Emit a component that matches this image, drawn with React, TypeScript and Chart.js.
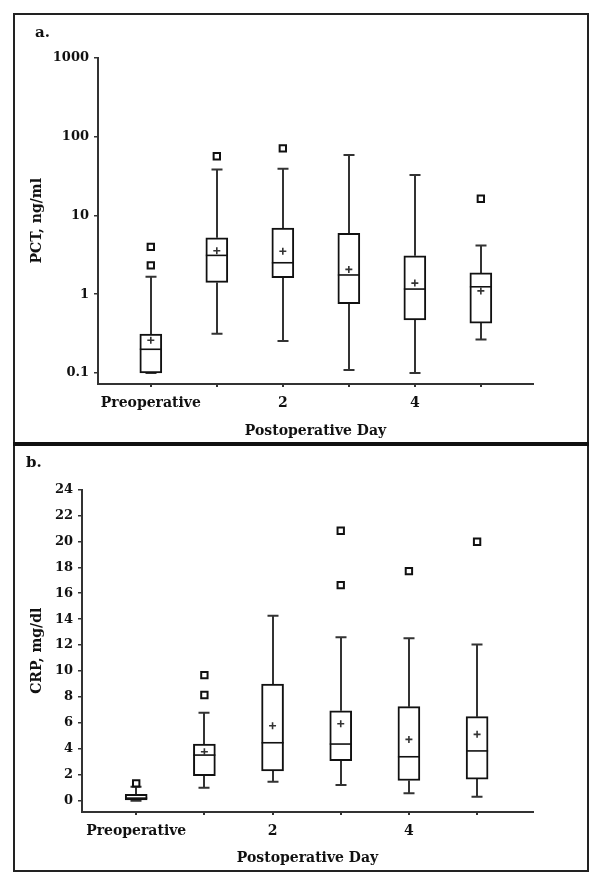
import React, { useEffect, useRef } from 'react';
import { Chart, registerables } from 'chart.js';

Chart.register(...registerables);

// ---------- data ----------
const categories = ['Preoperative', '', '2', '', '4', ''];

// Panel a: PCT (ng/ml), log scale
const pctTicks = [0.1, 1, 10, 100, 1000];
const pctMin = [0.1, 0.315, 0.255, 0.109, 0.1, 0.267];
const pctQ1 = [0.1, 1.41, 1.62, 0.76, 0.47, 0.43];
const pctMedian = [0.2, 3.1, 2.5, 1.75, 1.16, 1.24];
const pctQ3 = [0.312, 5.18, 6.9, 5.9, 3.07, 1.86];
const pctMax = [1.66, 38, 39, 58, 32.3, 4.15];
const pctMean = [0.26, 3.55, 3.5, 2.06, 1.38, 1.1];
const pctOutlierCat = [0, 0, 1, 2, 5];
const pctOutlierVal = [3.98, 2.32, 56, 70.5, 16.2];

// Panel b: CRP (mg/dl), linear scale
const crpTicks = [0, 2, 4, 6, 8, 10, 12, 14, 16, 18, 20, 22, 24];
const crpMin = [0, 1.0, 1.47, 1.21, 0.57, 0.31];
const crpQ1 = [0, 1.93, 2.29, 3.08, 1.56, 1.67];
const crpMedian = [0.2, 3.52, 4.47, 4.37, 3.39, 3.84];
const crpQ3 = [0.5, 4.37, 9.0, 6.94, 7.25, 6.48];
const crpMax = [1.08, 6.79, 14.26, 12.6, 12.52, 12.05];
const crpMean = [null, 3.78, 5.78, 5.94, 4.73, 5.12];
const crpOutlierCat = [0, 1, 1, 3, 3, 4, 5];
const crpOutlierVal = [1.34, 9.69, 8.15, 20.82, 16.63, 17.71, 19.97];

// ---------- helpers ----------
const FONT = "'DejaVu Serif', serif";
const CAP = 5.5;

function boxPlugin(mins: number[], q1s: number[], meds: number[], q3s: number[], maxs: number[]) {
  return {
    id: 'boxWhiskers',
    beforeDatasetsDraw(chart: any) {
      const { ctx, scales } = chart;
      const x = scales.x;
      const y = scales.y;
      ctx.save();
      ctx.strokeStyle = '#333';
      ctx.lineWidth = 2;
      for (let i = 0; i < mins.length; i++) {
        const px = Math.round(x.getPixelForValue(i));
        const top = y.getPixelForValue(maxs[i]);
        const bot = y.getPixelForValue(mins[i]);
        ctx.beginPath();
        ctx.moveTo(px, y.getPixelForValue(q3s[i]));
        ctx.lineTo(px, top);
        ctx.moveTo(px, y.getPixelForValue(q1s[i]));
        ctx.lineTo(px, bot);
        ctx.moveTo(px - CAP, top);
        ctx.lineTo(px + CAP, top);
        ctx.moveTo(px - CAP, bot);
        ctx.lineTo(px + CAP, bot);
        ctx.stroke();
      }
      ctx.restore();
    },
    afterDatasetDraw(chart: any, args: any) {
      if (args.index !== 0) return;
      const { ctx, scales } = chart;
      const y = scales.y;
      const meta = chart.getDatasetMeta(0);
      ctx.save();
      ctx.strokeStyle = '#111';
      ctx.lineWidth = 1.6;
      meta.data.forEach((el: any, i: number) => {
        const py = y.getPixelForValue(meds[i]);
        ctx.beginPath();
        ctx.moveTo(el.x - el.width / 2, py);
        ctx.lineTo(el.x + el.width / 2, py);
        ctx.stroke();
      });
      ctx.restore();
    },
  };
}

interface PanelCfg {
  yType: 'logarithmic' | 'linear';
  yMin: number;
  yMax: number;
  yTicks: number[];
  yTitle: string;
  yWidth: number;
  padTop: number;
  xMin: number;
  xMax: number;
  mins: number[];
  q1s: number[];
  meds: number[];
  q3s: number[];
  maxs: number[];
  means: (number | null)[];
  outCat: number[];
  outVal: number[];
  titlePadBottom: number;
}

function makeConfig(p: PanelCfg): any {
  const boxes = p.q1s.map((q1, i) => ({ x: i, y: [q1, p.q3s[i]] }));
  const means: any[] = [];
  p.means.forEach((m, i) => {
    if (m !== null) means.push({ x: i, y: m });
  });
  const outliers = p.outCat.map((c, i) => ({ x: c, y: p.outVal[i] }));
  return {
    type: 'bar',
    data: {
      datasets: [
        {
          type: 'bar',
          order: 3,
          data: boxes,
          backgroundColor: '#ffffff',
          borderColor: '#111',
          borderWidth: 2,
          borderSkipped: false,
          barThickness: 22,
        },
        {
          type: 'scatter',
          order: 1,
          data: means,
          pointStyle: 'cross',
          pointRadius: 3.5,
          pointBorderColor: '#333',
          pointBorderWidth: 1.6,
          borderColor: '#333',
        },
        {
          type: 'scatter',
          order: 2,
          data: outliers,
          pointStyle: 'rect',
          pointRadius: 4.5,
          pointBackgroundColor: '#fff',
          pointBorderColor: '#111',
          pointBorderWidth: 2,
          borderColor: '#111',
          backgroundColor: '#fff',
        },
      ],
    },
    options: {
      animation: false,
      responsive: false,
      devicePixelRatio: 1,
      layout: { padding: { left: 0, top: p.padTop, right: 69, bottom: 0 } },
      plugins: { legend: { display: false }, tooltip: { enabled: false } },
      scales: {
        x: {
          type: 'linear',
          min: p.xMin,
          max: p.xMax,
          offset: false,
          afterBuildTicks: (s: any) => {
            s.ticks = categories.map((_, i) => ({ value: i }));
          },
          afterFit: (s: any) => {
            s.height = 59;
          },
          ticks: {
            callback: (_v: any, idx: number) => categories[idx] ?? '',
            font: { family: FONT, size: 14, weight: 'bold' },
            color: '#111',
            padding: 8,
            maxRotation: 0,
            autoSkip: false,
          },
          grid: {
            display: true,
            offset: false,
            drawOnChartArea: false,
            drawTicks: true,
            tickLength: 3,
            color: '#333',
            lineWidth: 2,
          },
          border: { display: true, color: '#333', width: 2 },
          title: {
            display: true,
            text: 'Postoperative Day',
            font: { family: FONT, size: 14, weight: 'bold' },
            color: '#111',
            padding: { top: 0, bottom: p.titlePadBottom },
          },
        },
        y: {
          type: p.yType,
          min: p.yMin,
          max: p.yMax,
          afterBuildTicks: (s: any) => {
            s.ticks = p.yTicks.map((v) => ({ value: v }));
          },
          afterFit: (s: any) => {
            s.width = p.yWidth;
          },
          ticks: {
            callback: (v: any) => String(v),
            font: { family: FONT, size: 13, weight: 'bold' },
            color: '#111',
            padding: 5,
            autoSkip: false,
          },
          grid: {
            display: true,
            drawOnChartArea: false,
            drawTicks: true,
            tickLength: 4,
            color: '#333',
            lineWidth: 1.5,
          },
          border: { display: true, color: '#333', width: 2 },
          title: {
            display: true,
            text: p.yTitle,
            font: { family: FONT, size: 14, weight: 'bold' },
            color: '#111',
            padding: { top: 29, bottom: 0 },
          },
        },
      },
    },
    plugins: [boxPlugin(p.mins, p.q1s, p.meds, p.q3s, p.maxs)],
  };
}

function Panel({ cfg, top, height }: { cfg: PanelCfg; top: number; height: number }) {
  const ref = useRef<HTMLCanvasElement>(null);
  useEffect(() => {
    if (!ref.current) return;
    const chart = new Chart(ref.current, makeConfig(cfg));
    return () => chart.destroy();
  }, []);
  return (
    <canvas
      ref={ref}
      width={602}
      height={height}
      style={{ position: 'absolute', left: 0, top, width: 602, height }}
    />
  );
}

const panelA: PanelCfg = {
  yType: 'logarithmic',
  yMin: 0.0726,
  yMax: 1000,
  yTicks: pctTicks,
  yTitle: 'PCT, ng/ml',
  yWidth: 98,
  padTop: 57.5,
  xMin: -0.8,
  xMax: 5.79,
  mins: pctMin,
  q1s: pctQ1,
  meds: pctMedian,
  q3s: pctQ3,
  maxs: pctMax,
  means: pctMean,
  outCat: pctOutlierCat,
  outVal: pctOutlierVal,
  titlePadBottom: 3,
};

const panelB: PanelCfg = {
  yType: 'linear',
  yMin: -0.87,
  yMax: 24,
  yTicks: crpTicks,
  yTitle: 'CRP, mg/dl',
  yWidth: 82,
  padTop: 43.5,
  xMin: -0.795,
  xMax: 5.82,
  mins: crpMin,
  q1s: crpQ1,
  meds: crpMedian,
  q3s: crpQ3,
  maxs: crpMax,
  means: crpMean,
  outCat: crpOutlierCat,
  outVal: crpOutlierVal,
  titlePadBottom: 4,
};

export default function App() {
  const labelStyle: React.CSSProperties = {
    position: 'absolute',
    fontFamily: FONT,
    fontWeight: 'bold',
    fontSize: 15,
    lineHeight: '16px',
    color: '#111',
  };
  return (
    <div
      style={{
        position: 'absolute',
        left: 0,
        top: 0,
        width: 602,
        height: 886,
        background: '#fff',
        overflow: 'hidden',
      }}
    >
      <Panel cfg={panelA} top={0} height={443} />
      <Panel cfg={panelB} top={446} height={425} />
      <div
        style={{
          position: 'absolute',
          left: 13,
          top: 13,
          width: 576,
          height: 859,
          border: '2px solid #222',
          boxSizing: 'border-box',
        }}
      />
      <div style={{ position: 'absolute', left: 13, top: 442, width: 576, height: 4, background: '#111' }} />
      <div style={{ ...labelStyle, left: 35, top: 24 }}>a.</div>
      <div style={{ ...labelStyle, left: 26, top: 454 }}>b.</div>
    </div>
  );
}
